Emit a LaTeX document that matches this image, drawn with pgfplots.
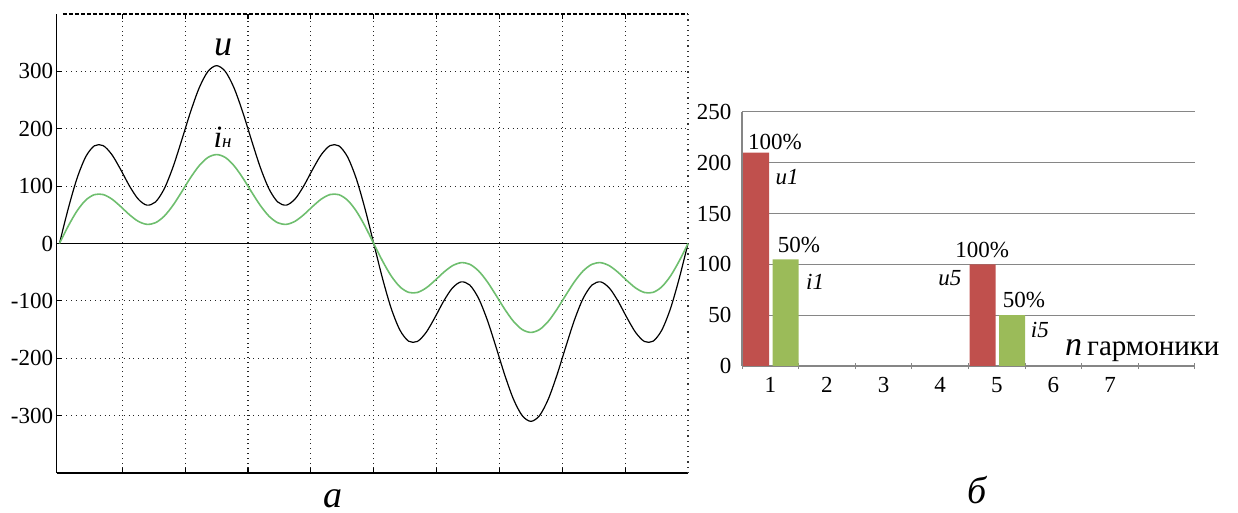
\documentclass[border=0pt]{standalone}
\usepackage{fontspec}
\setmainfont{Liberation Serif}
\usepackage{pgfplots}
\pgfplotsset{compat=1.18}
\definecolor{ured}{HTML}{C0504D}
\definecolor{igreen}{HTML}{9BBB59}
\definecolor{icurve}{RGB}{110,190,110}
\definecolor{gridgray}{RGB}{134,134,134}
\newcommand\fs[1]{\fontsize{#1}{#1}\selectfont}
\begin{document}
\begin{tikzpicture}
\useasboundingbox (0,0) rectangle (619pt,-256.5pt);
\begin{axis}[
  at={(28.25pt,-236.5pt)}, anchor=south west,
  scale only axis, width=315.75pt, height=229.5pt,
  xmin=-1.7, xmax=360, ymin=-400, ymax=400,
  clip=false,
  axis line style={draw=none},
  xtick={36,72,...,324}, xticklabels={},
  ytick={-300,-200,-100,100,200,300},
  yticklabels={-300,-200,-100,100,200,300},
  extra y ticks={0}, extra y tick labels={0},
  extra y tick style={grid=major, major grid style={solid,black,line width=0.6pt}},
  grid=major, major grid style={dotted, black!85, line width=0.6pt},
  tick align=inside, xtick pos=both, ytick pos=left,
  major tick length=2.5pt,
  tick style={black, line width=0.6pt},
  yticklabel style={font=\fs{11.5}, inner sep=1.5pt},
]
\draw[black, line width=0.7pt] (rel axis cs:0,0) -- (rel axis cs:0,1);
\draw[black, line width=0.7pt] (rel axis cs:0,0) -- (rel axis cs:1,0);
\draw[black, line width=1pt, dash pattern=on 2pt off 1pt] (rel axis cs:0.01,1) -- (rel axis cs:1,1);
\draw[black!80, dotted, line width=0.6pt] (rel axis cs:1,0) -- (rel axis cs:1,1);
\addplot[black, line width=0.6pt, smooth] coordinates {
(0,0) (5,60.56) (10,113.07) (15,150.94) (20,170.30) (25,170.67) (30,155.00) (35,129.17) (40,100.79) (45,77.78)
(50,66.90) (55,72.40) (60,95.27) (65,132.96) (70,179.98) (75,228.72) (80,271.09) (85,299.83) (90,310.00)
(95,299.83) (100,271.09) (105,228.72) (110,179.98) (115,132.96) (120,95.27) (125,72.40) (130,66.90) (135,77.78)
(140,100.79) (145,129.17) (150,155.00) (155,170.67) (160,170.30) (165,150.94) (170,113.07) (175,60.56) (180,0)
(185,-60.56) (190,-113.07) (195,-150.94) (200,-170.30) (205,-170.67) (210,-155.00) (215,-129.17) (220,-100.79) (225,-77.78)
(230,-66.90) (235,-72.40) (240,-95.27) (245,-132.96) (250,-179.98) (255,-228.72) (260,-271.09) (265,-299.83) (270,-310.00)
(275,-299.83) (280,-271.09) (285,-228.72) (290,-179.98) (295,-132.96) (300,-95.27) (305,-72.40) (310,-66.90) (315,-77.78)
(320,-100.79) (325,-129.17) (330,-155.00) (335,-170.67) (340,-170.30) (345,-150.94) (350,-113.07) (355,-60.56) (360,0)
};
\addplot[icurve, line width=0.8pt, smooth] coordinates {
(0,0) (5,30.28) (10,56.54) (15,75.47) (20,85.15) (25,85.34) (30,77.50) (35,64.59) (40,50.40) (45,38.89)
(50,33.45) (55,36.20) (60,47.64) (65,66.48) (70,89.99) (75,114.36) (80,135.55) (85,149.92) (90,155.00)
(95,149.92) (100,135.55) (105,114.36) (110,89.99) (115,66.48) (120,47.64) (125,36.20) (130,33.45) (135,38.89)
(140,50.40) (145,64.59) (150,77.50) (155,85.34) (160,85.15) (165,75.47) (170,56.54) (175,30.28) (180,0)
(185,-30.28) (190,-56.54) (195,-75.47) (200,-85.15) (205,-85.34) (210,-77.50) (215,-64.59) (220,-50.40) (225,-38.89)
(230,-33.45) (235,-36.20) (240,-47.64) (245,-66.48) (250,-89.99) (255,-114.36) (260,-135.55) (265,-149.92) (270,-155.00)
(275,-149.92) (280,-135.55) (285,-114.36) (290,-89.99) (295,-66.48) (300,-47.64) (305,-36.20) (310,-33.45) (315,-38.89)
(320,-50.40) (325,-64.59) (330,-77.50) (335,-85.34) (340,-85.15) (345,-75.47) (350,-56.54) (355,-30.28) (360,0)
};
\node[anchor=base, font=\fs{18}\itshape] at (axis cs:93.7,328) {u};
\node[anchor=base] at (axis cs:93.4,168) {\fs{15.5}\itshape i{\fs{9.5}н}};
\end{axis}
\node[anchor=base, font=\fs{19}\itshape] at (166.5pt,-253.5pt) {а};
\node[anchor=base, font=\fs{19}\itshape] at (488.5pt,-251.5pt) {б};
\begin{axis}[
  at={(371pt,-183pt)}, anchor=south west,
  scale only axis, width=226.5pt, height=127pt,
  xmin=0.5, xmax=8.5, ymin=0, ymax=250,
  clip=false,
  axis line style={draw=none},
  xtick={1,...,7}, minor xtick={0.5,1.5,...,8.5},
  ytick={0,50,...,250},
  ymajorgrids, major grid style={gridgray, line width=0.5pt},
  xtick pos=left, ytick pos=left,
  major x tick style={draw=none},
  major y tick style={draw=none},
  minor x tick style={gridgray, line width=0.5pt},
  minor tick length=3pt,
  tick align=center,
  /pgf/number format/assume math mode=true,
  xticklabel style={font=\fs{11.5}},
  yticklabel style={font=\fs{11.5}, inner sep=1.5pt, xshift=-1.5pt},
  bar width=0.46,
]
\draw[gridgray, line width=0.6pt] (rel axis cs:0,0) -- (rel axis cs:0,1);
\draw[gridgray, line width=0.6pt] (rel axis cs:0,0) -- (rel axis cs:1,0);
\addplot[ybar, bar shift=0pt, fill=ured, draw=none] coordinates {(0.75,210) (4.75,100)};
\addplot[ybar, bar shift=0pt, fill=igreen, draw=none] coordinates {(1.27,105) (5.27,50)};
\node[font=\fs{11.5}] at (axis cs:1.083,220.5) {100\%};
\node[font=\fs{11.5}\itshape] at (axis cs:1.295,186) {u1};
\node[font=\fs{11.5}] at (axis cs:1.507,119) {50\%};
\node[font=\fs{11.5}\itshape] at (axis cs:1.79,82.7) {i1};
\node[font=\fs{11.5}] at (axis cs:4.74,114) {100\%};
\node[font=\fs{11.5}\itshape] at (axis cs:4.17,86.6) {u5};
\node[font=\fs{11.5}] at (axis cs:5.48,65) {50\%};
\node[font=\fs{11.5}\itshape] at (axis cs:5.76,35.4) {i5};
\node[anchor=base west, inner sep=0pt] at (axis cs:6.2,10.8) {{\fs{17}\itshape n} {\fs{14.5}гармоники}};
\end{axis}
\end{tikzpicture}
\end{document}
